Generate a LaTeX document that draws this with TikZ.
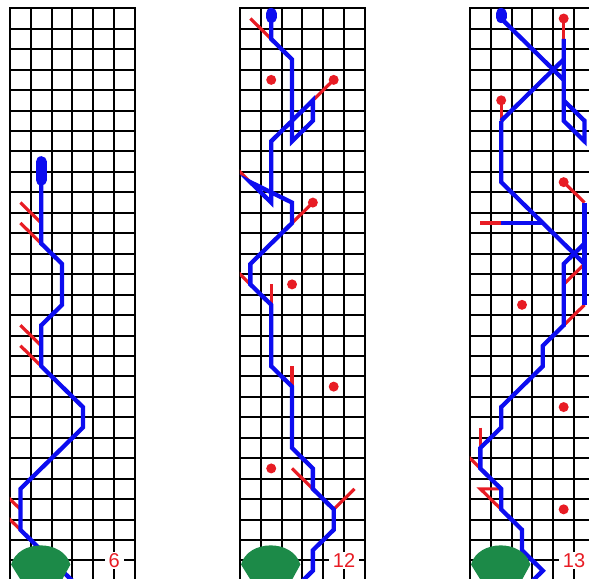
\documentclass[tikz,border=0pt]{standalone}
\usepackage{fontspec}
\setsansfont{Liberation Sans}
\definecolor{stemblue}{RGB}{12,12,240}
\definecolor{budred}{RGB}{232,28,36}
\definecolor{potgreen}{RGB}{28,138,72}
\begin{document}
\begin{tikzpicture}[x=20.83pt,y=-20.45pt,
    gridline/.style={black,line width=2pt,line cap=rect},
    stem/.style={stemblue,line width=4.3pt},
    bud/.style={budred,line width=3.2pt},
    tip/.style={stemblue,line width=11pt,line cap=round},
    pot/.style={potgreen},
    daynum/.style={fill=white,text=budred,inner xsep=4pt,inner ysep=1.5pt,
      font=\sffamily\fontsize{20}{20}\selectfont}]
  \useasboundingbox (-0.48,-0.406) rectangle (27.796,27.86);
  \clip (-0.48,-0.406) rectangle (27.796,27.86);
  % the three boards
  \foreach \s in {0,11.04,22.08} {
    \foreach \i in {0,...,6} \draw[gridline] (\s+\i,0) -- (\s+\i,28.5);
    \foreach \j in {0,...,28} \draw[gridline] (\s,\j) -- (\s+6,\j);
  }
  % day 6
  \begin{scope}
    \begin{scope}
      \clip (0,0) rectangle (6,28);
      \draw[bud] (0.5,9.5) -- (1.5,10.5);
      \draw[bud] (0.5,10.5) -- (1.5,11.5);
      \draw[bud] (0.5,15.5) -- (1.5,16.5);
      \draw[bud] (0.5,16.5) -- (1.5,17.5);
      \draw[bud] (-0.5,23.5) -- (0.5,24.5);
      \draw[bud] (-0.5,24.5) -- (0.5,25.5);
    \end{scope}
    \draw[stem] (1.5,8.5) -- (1.5,11.5) -- (2.5,12.5) -- (2.5,14.5) -- (1.5,15.5)
      -- (1.5,17.5) -- (3.5,19.5) -- (3.5,20.5) -- (0.5,23.5) -- (0.5,25.5) -- (3.5,28.5);
    \draw[tip] (1.5,7.5) -- (1.5,8.4);
    \fill[pot] (0.05,27.2) .. controls (0.4,25.95) and (2.55,25.95) .. (2.9,27.2)
      -- (2.2,28.5) -- (0.85,28.5) -- cycle;
    \node[daynum] (day6) at (5,27) {6};
  \end{scope}
  % day 12
  \begin{scope}[xshift=11.04*20.83pt]
    \begin{scope}
      \clip (0,0) rectangle (6,28);
      \draw[bud] (0.5,0.5) -- (1.5,1.5);
      \draw[bud] (4.5,3.5) -- (3.5,4.5);
      \draw[bud] (-0.5,7.5) -- (0.5,8.5);
      \draw[bud] (3.5,9.5) -- (2.5,10.5);
      \draw[bud] (-0.5,12.5) -- (0.5,13.5);
      \draw[bud] (1.5,13.5) -- (1.5,14.5);
      \draw[bud] (2.5,17.5) -- (2.5,18.5);
      \draw[bud] (2.5,22.5) -- (3.5,23.5);
      \draw[bud] (5.5,23.5) -- (4.5,24.5);
    \end{scope}
    \draw[stem] (1.5,0.5) -- (1.5,1.5) -- (2.5,2.5) -- (2.5,6.5) -- (3.5,5.5) -- (3.5,4.5)
      -- (1.5,6.5) -- (1.5,9.5) -- (0.5,8.5) -- (2.5,9.5) -- (2.5,10.5) -- (0.5,12.5)
      -- (0.5,13.5) -- (1.5,14.5) -- (1.5,17.5) -- (2.5,18.5) -- (2.5,21.5) -- (3.5,22.5)
      -- (3.5,23.5) -- (4.5,24.5) -- (4.5,25.5) -- (3.5,26.5) -- (3.5,27.5) -- (2.5,28.5);
    \draw[tip] (1.5,0.25) -- (1.5,0.45);
    \foreach \p in {(1.5,3.5),(4.5,3.5),(3.5,9.5),(2.5,13.5),(4.5,18.5),(1.5,22.5)}
      \fill[budred] \p circle (5pt);
    \fill[pot] (0.05,27.2) .. controls (0.4,25.95) and (2.55,25.95) .. (2.9,27.2)
      -- (2.2,28.5) -- (0.85,28.5) -- cycle;
    \node[daynum] (day12) at (5,27) {12};
  \end{scope}
  % day 13
  \begin{scope}[xshift=22.08*20.83pt]
    \begin{scope}
      \clip (0,0) rectangle (6,28);
      \draw[bud] (4.5,0.5) -- (4.5,1.5);
      \draw[bud] (1.5,4.5) -- (1.5,5.5);
      \draw[bud] (4.5,8.5) -- (5.5,9.5);
      \draw[bud] (0.5,10.5) -- (1.5,10.5);
      \draw[bud] (4.5,13.5) -- (5.5,12.5);
      \draw[bud] (4.5,15.5) -- (5.5,14.5);
      \draw[bud] (0.5,20.5) -- (0.5,21.5);
      \draw[bud] (-0.5,21.5) -- (0.5,22.5);
      \draw[bud] (1.5,23.5) -- (0.5,23.5) -- (1.5,24.5);
    \end{scope}
    \draw[stem] (1.5,0.5) -- (4.5,3.5);
    \draw[stem] (1.5,5.5) -- (4.5,2.5);
    \draw[stem] (4.5,1.5) -- (4.5,5.5) -- (5.5,6.5) -- (5.5,5.5) -- (4.5,4.5);
    \draw[stem] (1.5,5.5) -- (1.5,8.5) -- (5.5,12.5);
    \draw[stem] (1.5,10.5) -- (3.5,10.5);
    \draw[stem] (5.5,9.5) -- (5.5,14.5);
    \draw[stem] (5.5,11.5) -- (4.5,12.5) -- (4.5,15.5) -- (3.5,16.5) -- (3.5,17.5)
      -- (1.5,19.5) -- (1.5,20.5) -- (0.5,21.5) -- (0.5,22.5) -- (1.5,23.5) -- (1.5,24.5)
      -- (2.5,25.5) -- (2.5,26.5) -- (3.5,27.5) -- (2.5,28.5);
    \draw[tip] (1.5,0.25) -- (1.5,0.45);
    \foreach \p in {(4.5,0.5),(1.5,4.5),(4.5,8.5),(2.5,14.5),(4.5,19.5),(4.5,24.5)}
      \fill[budred] \p circle (5pt);
    \fill[pot] (0.05,27.2) .. controls (0.4,25.95) and (2.55,25.95) .. (2.9,27.2)
      -- (2.2,28.5) -- (0.85,28.5) -- cycle;
    \node[daynum] (day13) at (5,27) {13};
  \end{scope}
\end{tikzpicture}
\end{document}
